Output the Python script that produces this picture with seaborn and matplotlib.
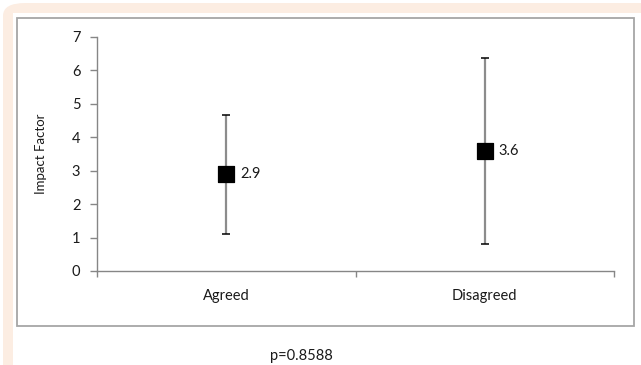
import matplotlib
matplotlib.use("Agg")
import matplotlib.pyplot as plt
from matplotlib.patches import FancyBboxPatch, Rectangle
import seaborn as sns
import pandas as pd

categories = ["Agreed", "Disagreed"]
means = [2.9, 3.6]
lower = [1.1, 0.82]
upper = [4.67, 6.38]
yticks = [0, 1, 2, 3, 4, 5, 6, 7]
ylabel = "Impact Factor"
pvalue_text = "p=0.8588"

sns.set_theme(style="white")
plt.rcParams['font.family'] = ['Lato', 'DejaVu Sans']

W, H = 641, 365
fig = plt.figure(figsize=(W / 100, H / 100), dpi=100)

def fx(x):
    return x / W

def fy(y):
    return 1 - y / H

# peach frame
fig.patches.append(FancyBboxPatch((fx(3), fy(400)), fx(700), fy(3) - fy(400),
                                  boxstyle="round,pad=0,rounding_size=0.035",
                                  transform=fig.transFigure, facecolor="#fcede2",
                                  edgecolor="none", zorder=-3))
fig.patches.append(Rectangle((fx(13), fy(400)), fx(700), fy(13) - fy(400),
                             transform=fig.transFigure, facecolor="white",
                             edgecolor="none", zorder=-2))
# gray chart box
fig.patches.append(Rectangle((fx(17), fy(326)), fx(634) - fx(17), fy(18) - fy(326),
                             transform=fig.transFigure, facecolor="none",
                             edgecolor="#a6a6a6", lw=1.3, zorder=-1))

ax = fig.add_axes([fx(97), fy(271), fx(614) - fx(97), fy(37) - fy(271)])
ax.set_zorder(2)
ax.set_facecolor("none")

df = pd.DataFrame({"cat": categories, "mean": means, "lo": lower, "hi": upper})
xpos = list(range(len(categories)))

ax.errorbar(xpos, df["mean"], yerr=[df["mean"] - df["lo"], df["hi"] - df["mean"]],
            fmt="none", ecolor="#8c8c8c", elinewidth=1.6, capsize=0, zorder=2)
# caps
ax.scatter(xpos, df["lo"], marker="_", s=36, color="black", linewidths=1.1, zorder=3)
ax.scatter(xpos, df["hi"], marker="_", s=36, color="black", linewidths=1.1, zorder=3)
sns.scatterplot(x=xpos, y=df["mean"], marker="s", s=125, color="black",
                edgecolor="black", ax=ax, zorder=4, legend=False)

for x, m in zip(xpos, means):
    ax.annotate(f"{m:.1f}", (x, m), xytext=(10, 0), textcoords="offset points",
                va="center", ha="left", fontsize=10.5, color="#1a1a1a")

ax.set_xlim(-0.5, len(categories) - 0.5)
ax.set_ylim(0, 7)
ax.set_yticks(yticks)
ax.set_yticklabels([str(t) for t in yticks], fontsize=10.5, color="#1a1a1a")
ax.set_xticks(xpos)
ax.set_xticklabels(categories, fontsize=10.5, color="#1a1a1a")
ax.set_xticks([-0.5, 0.5, 1.5], minor=True)
ax.tick_params(axis="x", which="major", length=0, pad=13)
ax.tick_params(axis="x", which="minor", length=4, width=1, color="#868686", direction="out")
ax.tick_params(axis="y", length=5, width=1, color="#868686", direction="out", pad=7)
ax.yaxis.set_ticks_position("left")
ax.xaxis.set_ticks_position("bottom")
ax.tick_params(axis="x", which="minor", bottom=True)
ax.set_xlabel("")
ax.set_ylabel("")

for s in ["top", "right"]:
    ax.spines[s].set_visible(False)
for s in ["left", "bottom"]:
    ax.spines[s].set_color("#868686")
    ax.spines[s].set_linewidth(1.0)

fig.text(fx(41), fy(154), ylabel, rotation=90, ha="center", va="center",
         fontsize=9.5, color="#1a1a1a")
fig.text(fx(301), fy(356), pvalue_text, ha="center", va="center",
         fontsize=10.5, color="#1a1a1a")

fig.savefig("out.png", dpi=100)
